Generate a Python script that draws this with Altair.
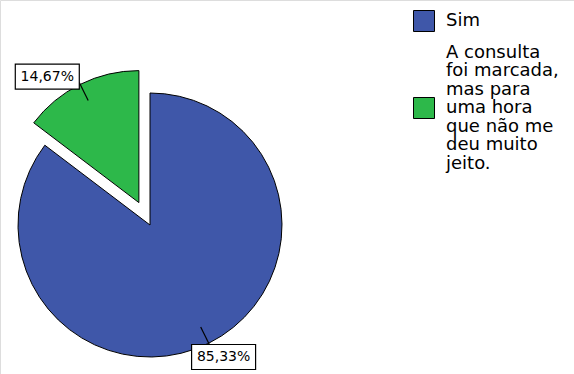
import math
import altair as alt
import pandas as pd

# ---- data ----
legend_lines = [
    ["Sim"],
    ["A consulta", "foi marcada,", "mas para", "uma hora", "que não me", "deu muito", "jeito."],
]
percents = [85.33, 14.67]
pct_labels = ["85,33%", "14,67%"]
colors = ["#3F57A9", "#2DB84A"]

categories = ["|".join(l) for l in legend_lines]

# legend square for each entry, moved down so it sits beside the middle line of its label
LH = 18.5
SYM = 21  # square side, px
half = SYM / 2


def square_path(n_lines):
    off = ((n_lines - 1) / 2) * LH / half
    return f"M-1,{off - 1:.3f}L1,{off - 1:.3f}L1,{off + 1:.3f}L-1,{off + 1:.3f}Z"


shapes = [square_path(len(l)) for l in legend_lines]

ends = pd.Series(percents).cumsum()
starts = ends - pd.Series(percents)

df = pd.DataFrame({
    "cat": categories,
    "pct": percents,
    "label": pct_labels,
    "start": starts,
    "end": ends,
    "idx": list(range(len(categories))),
})

CX, CY, R = 150, 225, 132
EXPLODE = 25  # exploded slice = the smaller one
R1, R2 = 114, 134
BW, BH = 64, 25

base = alt.Chart(df).transform_calculate(
    mid="2*PI*(datum.start+datum.end)/200",
).transform_calculate(
    ex=f"datum.idx == 1 ? {EXPLODE} : 0",
).transform_calculate(
    cx=f"{CX} + datum.ex*sin(datum.mid)",
    cy=f"{CY} - datum.ex*cos(datum.mid)",
).transform_calculate(
    lx1=f"datum.cx + {R1}*sin(datum.mid)",
    ly1=f"datum.cy - {R1}*cos(datum.mid)",
    lx2=f"datum.cx + {R2}*sin(datum.mid)",
    ly2=f"datum.cy - {R2}*cos(datum.mid)",
).transform_calculate(
    bx="datum.lx2 + (sin(datum.mid) < 0 ? -32 : 14)",
    by="datum.ly2 + (cos(datum.mid) > 0 ? -6 : 12)",
).transform_calculate(
    bx1=f"datum.bx - {BW/2}",
    bx2=f"datum.bx + {BW/2}",
    by1=f"datum.by - {BH/2}",
    by2=f"datum.by + {BH/2}",
)

legend = alt.Legend(
    title=None,
    orient="none",
    legendX=413,
    legendY=10,
    symbolSize=SYM * SYM,
    symbolStrokeColor="black",
    symbolStrokeWidth=1,
    symbolOpacity=1,
    labelFont="DejaVu Sans",
    labelFontSize=18,
    labelColor="black",
    labelExpr="split(datum.label, '|')",
    labelOffset=11,
    labelLimit=300,
    rowPadding=7.5,
    padding=0,
)

color_scale = alt.Scale(domain=categories, range=colors)

arcs = base.mark_arc(radius=R, stroke="black", strokeWidth=1, opacity=1).encode(
    x=alt.X("cx:Q", scale=None),
    y=alt.Y("cy:Q", scale=None),
    theta=alt.Theta("start:Q", scale=alt.Scale(domain=[0, 100], range=[0, 2 * math.pi]), stack=False),
    theta2="end:Q",
    color=alt.Color("cat:N", scale=color_scale, legend=legend),
)

# off-canvas points that carry the legend's outlined square symbols
keys = base.mark_point(filled=True, strokeWidth=1, opacity=1).encode(
    x=alt.value(-200),
    y=alt.value(-200),
    color=alt.Color("cat:N", scale=color_scale, legend=legend),
    shape=alt.Shape("cat:N", scale=alt.Scale(domain=categories, range=shapes), legend=legend),
    stroke=alt.Stroke("cat:N", scale=alt.Scale(domain=categories, range=["black"] * len(categories)), legend=legend),
)

leaders = base.mark_rule(color="black", strokeWidth=1.2).encode(
    x=alt.X("lx1:Q", scale=None),
    y=alt.Y("ly1:Q", scale=None),
    x2="lx2:Q",
    y2="ly2:Q",
)

boxes = base.mark_rect(fill="white", stroke="black", strokeWidth=1.2).encode(
    x=alt.X("bx1:Q", scale=None),
    x2="bx2:Q",
    y=alt.Y("by1:Q", scale=None),
    y2="by2:Q",
)

texts = base.mark_text(font="DejaVu Sans", fontSize=14, color="black").encode(
    x=alt.X("bx:Q", scale=None),
    y=alt.Y("by:Q", scale=None),
    text="label:N",
)

chart = alt.layer(arcs, keys, leaders, boxes, texts).properties(
    width=574,
    height=374,
    autosize=alt.AutoSizeParams(type="none"),
    padding=0,
).configure_view(strokeWidth=0).configure(
    style={"guide-label": {"lineHeight": LH}}
)

chart.save("out.html", embed_options={"renderer": "svg", "actions": False})
